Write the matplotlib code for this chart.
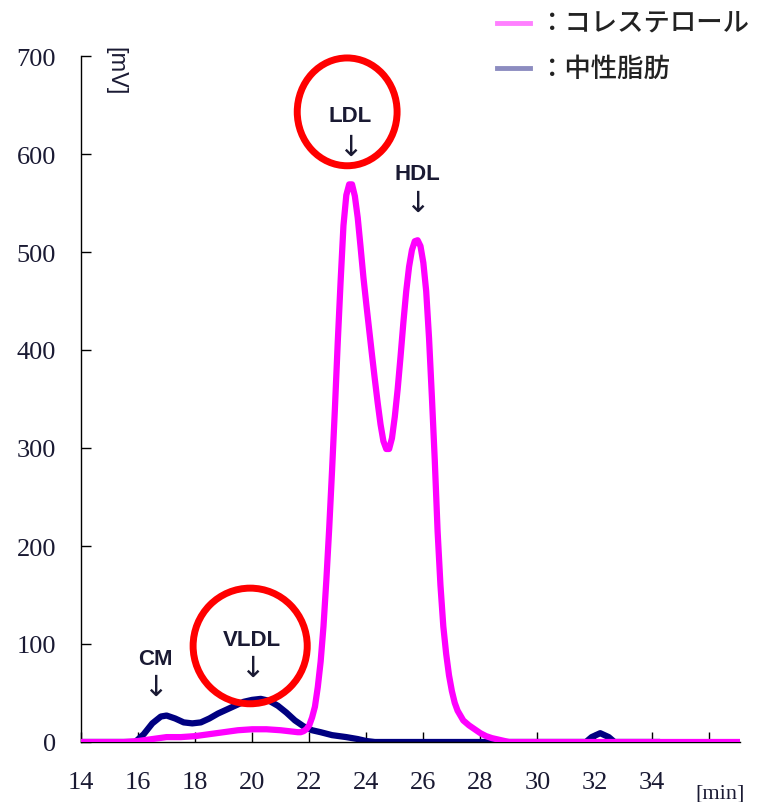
import matplotlib
matplotlib.use("Agg")
import matplotlib.pyplot as plt
from matplotlib.patches import Ellipse
from matplotlib.lines import Line2D

# --------------------------------------------------
# Data
# --------------------------------------------------
chol_t = [14.0, 15.5, 16.0, 16.5, 17.0, 17.5, 18.0, 18.5, 19.0, 19.5, 20.0, 20.5,
          21.0, 21.3, 21.6, 21.7, 21.8, 21.9, 22.0, 22.1, 22.2, 22.3, 22.4, 22.5,
          22.6, 22.7, 22.8, 22.9, 23.0, 23.1, 23.2, 23.3, 23.4, 23.5, 23.6, 23.7,
          23.8, 23.9, 24.0, 24.1, 24.2, 24.3, 24.4, 24.5, 24.6, 24.7, 24.8, 24.9,
          25.0, 25.1, 25.2, 25.3, 25.4, 25.5, 25.6, 25.7, 25.8, 25.9, 26.0, 26.1,
          26.2, 26.3, 26.4, 26.5, 26.6, 26.7, 26.8, 26.9, 27.0, 27.1, 27.2, 27.4,
          27.6, 27.8, 28.0, 28.2, 28.4, 28.7, 29.0, 37.1]
chol_mv = [0, 0, 1, 3, 5, 5, 6, 8, 10, 12, 13, 13,
           12, 11, 10, 10, 11, 13, 17, 25, 36, 56, 82, 118,
           165, 218, 277, 340, 408, 470, 527, 558, 569, 569, 557, 535,
           505, 474, 447, 421, 395, 370, 346, 324, 307, 299, 299, 310,
           332, 360, 393, 428, 460, 485, 502, 511, 512, 506, 489, 460,
           412, 352, 288, 215, 160, 118, 90, 68, 52, 40, 32, 22,
           17, 13, 9, 6, 4, 2, 0, 0]

tg_t = [14.0, 15.9, 16.2, 16.5, 16.8, 17.0, 17.3, 17.6, 17.9, 18.2, 18.5, 18.8,
        19.1, 19.4, 19.7, 20.0, 20.3, 20.6, 20.9, 21.2, 21.5, 21.8, 22.1, 22.4,
        22.8, 23.3, 23.7, 24.0, 24.3, 31.7, 31.9, 32.2, 32.5, 32.7, 34.3]
tg_mv = [0, 0, 8, 19, 26, 27, 24, 20, 19, 20, 24, 29,
         33, 37, 41, 43, 44, 42, 37, 30, 22, 16, 12, 10,
         7, 5, 3, 1, 0, 0, 5, 9, 5, 0, 0]

xticks = [14, 16, 18, 20, 22, 24, 26, 28, 30, 32, 34, 36]
xtick_labels = ["14", "16", "18", "20", "22", "24", "26", "28", "30", "32", "34", ""]
yticks = [0, 100, 200, 300, 400, 500, 600, 700]

# peak labels: (text, x, label y, arrow y)
peaks = [("CM", 16.59, 85, 56),
         ("VLDL", 19.99, 105, 76),
         ("LDL", 23.45, 639, 607),
         ("HDL", 25.8, 580, 550)]

PINK = "#ff00ff"
NAVY = "#000080"
TXT = "#1a1a33"

# --------------------------------------------------
# Figure
# --------------------------------------------------
fig = plt.figure(figsize=(7.64, 8.03), dpi=100)
ax = fig.add_axes([81 / 764, 60 / 803, 659 / 764, 686 / 803])

ax.plot(tg_t, tg_mv, color=NAVY, lw=4.5, solid_capstyle="butt", zorder=2)
ax.plot(chol_t, chol_mv, color=PINK, lw=4.5, solid_capstyle="butt",
        solid_joinstyle="round", zorder=3)

ax.set_xlim(14, 37.1)
ax.set_ylim(0, 700)
for s in ["top", "right"]:
    ax.spines[s].set_visible(False)
for s in ["left", "bottom"]:
    ax.spines[s].set_linewidth(1.0)

ax.set_xticks(xticks)
ax.set_xticklabels(xtick_labels)
ax.set_yticks(yticks)
ax.tick_params(axis="both", direction="in", length=7, width=1.0,
               labelsize=19, labelcolor=TXT)
ax.tick_params(axis="x", pad=21)
ax.tick_params(axis="y", pad=18)
for lab in ax.get_xticklabels() + ax.get_yticklabels():
    lab.set_fontfamily("Liberation Serif")

# unit labels
fig.text(115 / 764, 1 - 71 / 803, "[mV]", rotation=270, ha="center", va="center",
         fontsize=17, family="Liberation Sans", color=TXT)
fig.text(720 / 764, 1 - 794 / 803, "[min]", ha="center", va="center",
         fontsize=16, family="Liberation Serif", color=TXT)

# peak names with arrows
for name, px, ty, ay in peaks:
    ax.text(px, ty, name, ha="center", va="center", fontsize=16,
            fontweight="bold", family="Liberation Sans", color=TXT)
    ax.text(px, ay, "↓", ha="center", va="center", fontsize=21,
            family="DejaVu Sans", color=TXT)

# red circles around LDL and VLDL
ax.add_patch(Ellipse((23.33, 643), 3.5, 110, fill=False, edgecolor="#ff0000",
                     lw=5, clip_on=False, zorder=5))
ax.add_patch(Ellipse((19.93, 98), 4.0, 118, fill=False, edgecolor="#ff0000",
                     lw=5, clip_on=False, zorder=5))

# legend (top right)
jp = ["Noto Sans CJK JP", "DejaVu Sans"]
legend_rows = [("#ff80ff", "：コレステロール", 24), ("#8c8cc0", "：中性脂肪", 69)]
for col, label, py in legend_rows:
    yy = 1 - py / 803
    fig.add_artist(Line2D([497 / 764, 530 / 764], [yy, yy], color=col, lw=3.5))
    fig.text(538 / 764, yy, label, ha="left", va="center", fontsize=19,
             family=jp, weight="medium", color="#222222")

fig.savefig("out.png", dpi=100)
